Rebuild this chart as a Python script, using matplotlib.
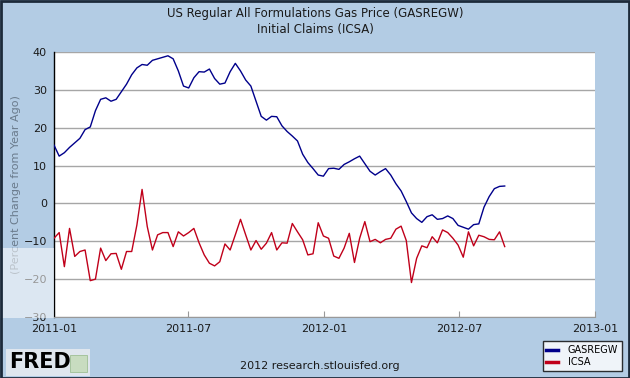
import numpy as np
import pandas as pd
import matplotlib
matplotlib.use("Agg")
import matplotlib.pyplot as plt
import matplotlib.dates as mdates
from matplotlib.patches import Rectangle

# Weekly series, percent change from year ago
dates = pd.date_range("2011-01-01", periods=88, freq="7D")

gasregw = [15.4, 12.5, 13.4, 14.8, 16.0, 17.2, 19.5, 20.2, 24.5, 27.5, 27.9, 27.0,
           27.5, 29.5, 31.5, 34.0, 35.8, 36.7, 36.5, 37.8, 38.2, 38.6, 39.0,
           38.2, 35.0, 31.0, 30.5, 33.2, 34.8, 34.7, 35.5, 33.0, 31.5, 31.8, 34.8,
           37.0, 35.0, 32.6, 31.0, 27.0, 23.0, 22.0, 23.0, 22.9,
           20.5, 19.0, 17.8, 16.5, 13.0, 10.8, 9.2, 7.5, 7.2, 9.2, 9.3, 9.0,
           10.3, 11.0, 11.8, 12.5, 10.5, 8.5, 7.5, 8.4, 9.2, 7.5,
           5.2, 3.3, 0.5, -2.5, -4.0, -5.0, -3.5, -3.0, -4.2, -4.0, -3.3, -4.0,
           -5.8, -6.3, -6.8, -5.6, -5.4, -1.0, 1.8, 3.9, 4.5, 4.6]

icsa = [-9.2, -7.7, -16.7, -6.6, -14.0, -12.7, -12.3, -20.4, -20.0, -11.8, -15.1, -13.3,
        -13.2, -17.4, -12.7, -12.7, -5.7, 3.7, -6.1, -12.3, -8.3, -7.7, -7.7,
        -11.4, -7.5, -8.6, -7.7, -6.6, -10.4, -13.6, -15.8, -16.5, -15.4, -10.7, -12.3,
        -8.3, -4.2, -8.3, -12.3, -9.8, -12.1, -10.5, -7.7, -12.3, -10.4,
        -10.5, -5.3, -7.5, -9.6, -13.6, -13.3, -5.1, -8.6, -9.2, -13.9, -14.5,
        -11.8, -7.9, -15.6, -9.2, -4.8, -10.1, -9.5, -10.4, -9.5, -9.2, -6.8,
        -6.0, -9.8, -20.9, -14.5, -11.2, -11.7, -8.8, -10.4, -7.0, -7.7, -9.2,
        -11.0, -14.2, -7.5, -11.2, -8.4, -8.8, -9.5, -9.6, -7.5, -11.4]

x_ticks = pd.to_datetime(["2011-01-01", "2011-07-01", "2012-01-01", "2012-07-01", "2013-01-01"])
y_ticks = [-30, -20, -10, 0, 10, 20, 30, 40]

BG = "#b3cce4"

fig = plt.figure(figsize=(6.3, 3.78), dpi=100, facecolor=BG)
ax = fig.add_axes([54 / 630, 1 - 317 / 378, (595 - 54) / 630, (317 - 52) / 378])
ax.set_facecolor("white")

# grid first, lines on top
for yv in y_ticks:
    ax.axhline(yv, color="#a6a6a6", lw=1.0, zorder=1)

ax.plot(dates, gasregw, color="#00008b", lw=1.0, zorder=3, label="GASREGW")
ax.plot(dates, icsa, color="#c0001a", lw=1.0, zorder=3, label="ICSA")

ax.set_xlim(pd.Timestamp("2011-01-01"), pd.Timestamp("2013-01-01"))
ax.set_ylim(-30, 40)
ax.set_xticks(x_ticks)
ax.xaxis.set_major_formatter(mdates.DateFormatter("%Y-%m"))
ax.set_yticks(y_ticks)

ax.tick_params(axis="x", direction="in", length=4, color="#999999",
               labelsize=8, labelcolor="#1a1a1a", pad=5)
ax.tick_params(axis="y", length=0, labelsize=8, labelcolor="#1a1a1a", pad=5)
for lbl in ax.get_yticklabels():
    lbl.set_verticalalignment("center_baseline")

for side in ["top", "right"]:
    ax.spines[side].set_visible(False)
ax.spines["left"].set_color("black")
ax.spines["left"].set_linewidth(1.0)
ax.spines["bottom"].set_color("#999999")

ax.set_ylabel("(Percent Change from Year Ago)", fontsize=8, color="#6a7b8c", labelpad=2)

fig.text(0.5, 1 - 13 / 378, "US Regular All Formulations Gas Price (GASREGW)",
         ha="center", va="center", fontsize=8.5, color="#1a1a1a")
fig.text(0.5, 1 - 30 / 378, "Initial Claims (ICSA)",
         ha="center", va="center", fontsize=8.5, color="#1a1a1a")

fig.text(320 / 630, 1 - 366 / 378, "2012 research.stlouisfed.org",
         ha="center", va="center", fontsize=8, color="#1a1a1a")

# FRED logo
fig.patches.append(Rectangle((6 / 630, 2 / 378), 84 / 630, 27 / 378,
                             transform=fig.transFigure, facecolor="#dfe6ee",
                             edgecolor="none", zorder=0))
fig.text(9 / 630, 1 - 362 / 378, "FRED", ha="left", va="center",
         fontsize=15, fontweight="bold", color="black")
fig.patches.append(Rectangle((70 / 630, 6 / 378), 17 / 630, 17 / 378,
                             transform=fig.transFigure, facecolor="#c8dcc0",
                             edgecolor="#9fbf95", lw=0.6, zorder=1))

leg = fig.legend(loc="lower right", bbox_to_anchor=(627 / 630, 2 / 378),
                 fontsize=7, handlelength=1.2, frameon=True, fancybox=False,
                 borderpad=0.4, labelspacing=0.2, handletextpad=1.0)
leg.get_frame().set_edgecolor("black")
leg.get_frame().set_linewidth(1.0)
for h in leg.legend_handles:
    h.set_linewidth(2.5)

# faded watermark band over the left margin
fig.patches.append(Rectangle((0, 1 - 318 / 378), 54 / 630, 70 / 378,
                             transform=fig.transFigure, facecolor="white",
                             alpha=0.55, edgecolor="none", zorder=5))

# outer border
fig.patches.append(Rectangle((0.001, 0.001), 0.998, 0.997, transform=fig.transFigure,
                             facecolor="none", edgecolor="#1c2a3a", lw=2, zorder=10))

fig.savefig("out.png", dpi=100, facecolor=BG)
